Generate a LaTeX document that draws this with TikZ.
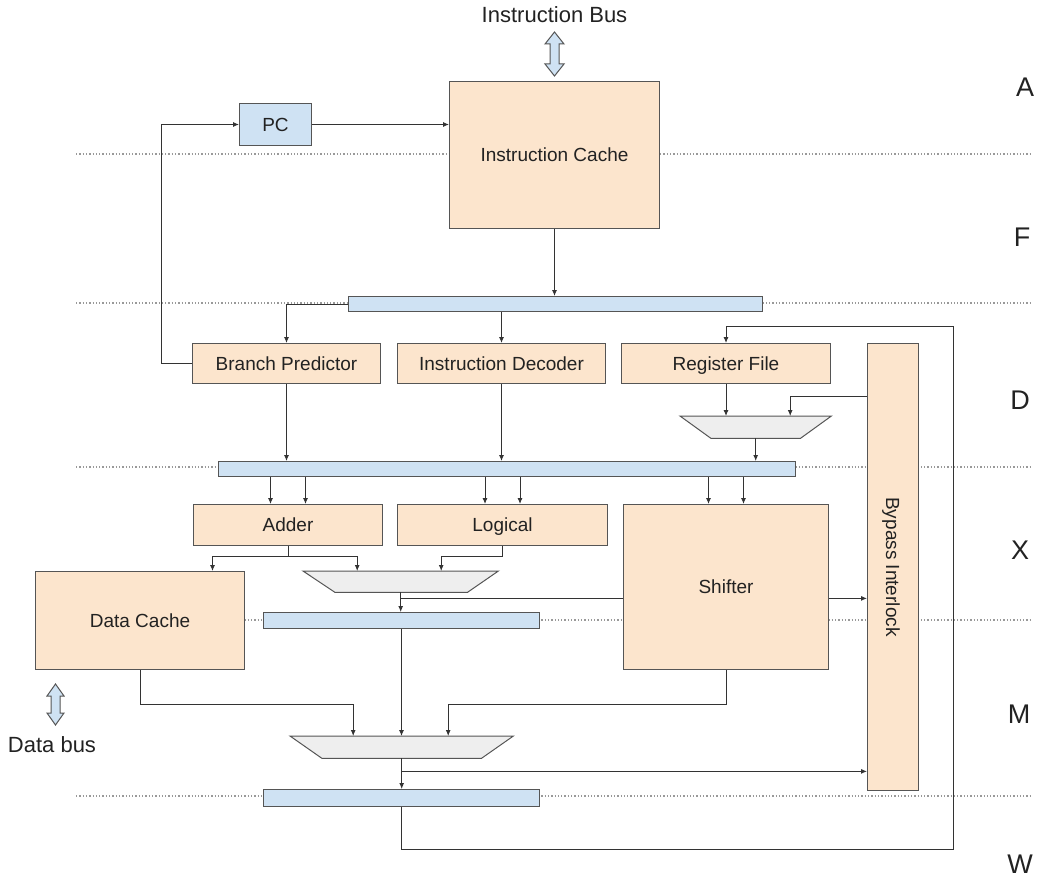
\documentclass[tikz,border=0pt]{standalone}
\usepackage{fontspec}
\setmainfont{Liberation Sans}
\usetikzlibrary{arrows.meta}
\definecolor{unitfill}{HTML}{FCE5CD}
\definecolor{busfill}{HTML}{CFE2F3}
\definecolor{muxfill}{HTML}{EEEEEE}
\definecolor{edgegray}{HTML}{555555}
\definecolor{wiregray}{HTML}{333333}
\definecolor{ink}{HTML}{222222}
\definecolor{dotgray}{HTML}{999999}
\begin{document}
\begin{tikzpicture}[x=1pt,y=-1pt,
  txt/.style={text=ink, font=\fontsize{19}{22}\selectfont, text height=13.6pt, text depth=0pt},
  unit/.style={draw=edgegray, fill=unitfill, line width=1pt, inner sep=0pt,
    anchor=north west, txt},
  latch/.style={draw=edgegray, fill=busfill, line width=1pt, inner sep=0pt,
    anchor=north west},
  muxframe/.style={inner sep=0pt, anchor=north west},
  mux/.style={draw=edgegray, fill=muxfill, line width=1pt, line join=miter},
  wire/.style={draw=wiregray, line width=0.9pt},
  arr/.style={wire, -{Latex[length=6pt,width=5pt]}},
  stageline/.style={draw=dotgray, line width=1.2pt, dash pattern=on 1.3pt off 2pt},
  stagename/.style={text=ink, font=\fontsize{27}{30}\selectfont},
  buslabel/.style={text=ink, font=\fontsize{22}{26}\selectfont},
  busarrow/.style={draw=edgegray, fill=busfill, line width=1pt, line join=miter},
]
\useasboundingbox (0,0) rectangle (1037,880);

% pipeline stage boundaries
\foreach \y in {154,303,467,620,796}
  \draw[stageline] (76,\y) -- (1030,\y);

% stage names
\node[stagename] (sA) at (1025,87) {A};
\node[stagename] (sF) at (1022,237) {F};
\node[stagename] (sD) at (1020,400) {D};
\node[stagename] (sX) at (1020,550) {X};
\node[stagename] (sM) at (1019,714) {M};
\node[stagename] (sW) at (1020,864) {W};

% fetch
\node[unit, minimum width=210, minimum height=147] (ic) at (449,81) {Instruction Cache};
\node[unit, fill=busfill, minimum width=72, minimum height=42] (pc) at (239,103) {PC};
\node[latch, minimum width=414, minimum height=15] (bus1) at (348,296) {};

% decode
\node[unit, minimum width=188, minimum height=40] (bp) at (192,343) {Branch Predictor};
\node[unit, minimum width=208, minimum height=40] (id) at (397,343) {Instruction Decoder};
\node[unit, minimum width=209, minimum height=40] (rf) at (621,343) {Register File};
\node[unit, minimum width=51, minimum height=447] (bypass) at (867,343) {};
\node[txt, rotate=-90] (bypasslabel) at (bypass.center) {Bypass Interlock};
\node[muxframe, minimum width=151, minimum height=22] (muxd) at (680,416) {};
\draw[mux] (muxd.north west) -- (muxd.north east) -- ([xshift=-31pt]muxd.south east)
  -- ([xshift=31pt]muxd.south west) -- cycle;
\node[latch, minimum width=577, minimum height=15] (bus2) at (218,461) {};

% execute
\node[unit, minimum width=189, minimum height=41] (adder) at (193,504) {Adder};
\node[unit, minimum width=210, minimum height=41] (logical) at (397,504) {Logical};
\node[unit, minimum width=205, minimum height=165] (shifter) at (623,504) {Shifter};
\node[muxframe, minimum width=195, minimum height=21] (mux2) at (303,571) {};
\draw[mux] (mux2.north west) -- (mux2.north east) -- ([xshift=-31pt]mux2.south east)
  -- ([xshift=32pt]mux2.south west) -- cycle;
\node[latch, minimum width=276, minimum height=16] (bus3) at (263,612) {};

% memory
\node[unit, minimum width=209, minimum height=98] (dc) at (35,571) {Data Cache};
\node[muxframe, minimum width=223, minimum height=22] (mux3) at (290,736) {};
\draw[mux] (mux3.north west) -- (mux3.north east) -- ([xshift=-32pt]mux3.south east)
  -- ([xshift=32pt]mux3.south west) -- cycle;
\node[latch, minimum width=276, minimum height=17] (bus4) at (263,789) {};

% external buses
\node[buslabel] (ibus) at (554.5,15) {Instruction Bus};
\coordinate (ibarrow) at (554.5,32);
\draw[busarrow] (ibarrow) -- ++(9.5,12) -- ++(-5,0) -- ++(0,20) -- ++(5,0) -- ++(-9.5,12)
  -- ++(-9.5,-12) -- ++(5,0) -- ++(0,-20) -- ++(-5,0) -- cycle;
\node[buslabel] (dbus) at (52,745) {Data bus};
\coordinate (dbarrow) at (55.5,684);
\draw[busarrow] (dbarrow) -- ++(8.5,12) -- ++(-4,0) -- ++(0,17) -- ++(4,0) -- ++(-8.5,12)
  -- ++(-8.5,-12) -- ++(4,0) -- ++(0,-17) -- ++(-4,0) -- cycle;

% writeback loop corners
\coordinate (wbr) at (953,849);
\coordinate (wtr) at (953,326);

% fetch wiring
\draw[arr] (pc.east) -- (pc.east -| ic.west);
\draw[arr] (bp.west) -- ++(-31,0) |- (pc.west);
\draw[arr] (ic.south) -- (ic.south |- bus1.north);
\draw[arr] (bus1.west) -| (bp.north);
\draw[arr] (id.north |- bus1.south) -- (id.north);

% decode wiring
\draw[arr] (bus4.south) |- (wbr) -- (wtr) -| (rf.north);
\draw[arr] (rf.south) -- (rf.south |- muxd.north);
\draw[arr] ([yshift=-53pt]bypass.north west) -| ([xshift=34.5pt]muxd.north);
\draw[arr] (muxd.south) -- (muxd.south |- bus2.north);
\draw[arr] (bp.south) -- (bp.south |- bus2.north);
\draw[arr] (id.south) -- (id.south |- bus2.north);

% execute wiring
\foreach \u in {adder,logical,shifter}
  \foreach \d in {-17.5,17.5}
    \draw[arr] ([xshift=\d pt]\u.north |- bus2.south) -- ([xshift=\d pt]\u.north);
\draw[arr] (adder.south) -- ++(0,10) -| ([xshift=72.5pt]dc.north);
\draw[arr] (adder.south) -- ++(0,10) -| ([xshift=-43.5pt]mux2.north);
\draw[arr] (logical.south) -- ++(0,10) -| ([xshift=40.5pt]mux2.north);
\draw[wire] ([yshift=-6pt]mux2.south) -- ([yshift=-6pt]mux2.south -| shifter.west);
\draw[arr] ([yshift=-6pt]mux2.south -| shifter.east) -- ([yshift=-6pt]mux2.south -| bypass.west);
\draw[arr] (mux2.south) -- (mux2.south |- bus3.north);

% memory wiring
\draw[arr] (bus3.south) -- (bus3.south |- mux3.north);
\draw[arr] (dc.south) -- ++(0,34) -| ([xshift=-48.5pt]mux3.north);
\draw[arr] (shifter.south) -- ++(0,34) -| ([xshift=46.5pt]mux3.north);
\draw[arr] (mux3.south) -- (mux3.south |- bus4.north);
\draw[arr] ([yshift=-13pt]mux3.south) -- ([yshift=-13pt]mux3.south -| bypass.west);
\end{tikzpicture}
\end{document}
